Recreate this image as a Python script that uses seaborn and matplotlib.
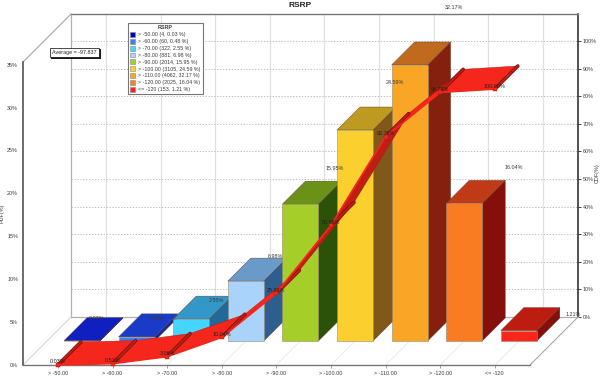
import matplotlib
matplotlib.use("Agg")
import matplotlib.pyplot as plt
import matplotlib.patheffects as pe
from matplotlib.patches import Patch, Polygon
import pandas as pd
import seaborn as sns

categories = ["> -50.00", "> -60.00", "> -70.00", "> -80.00", "> -90.00",
              "> -100.00", "> -110.00", "> -120.00", "<= -120"]
counts = [4, 60, 322, 881, 2014, 3105, 4062, 2025, 153]
pdf_values = [0.03, 0.48, 2.55, 6.98, 15.95, 24.59, 32.17, 16.04, 1.21]
cdf_values = [0.03, 0.51, 3.06, 10.04, 25.99, 50.58, 82.75, 98.79, 100.00]
average_text = "Average = -97.837"

front_colors = ["#0000C8", "#3E7FF0", "#45D5FF", "#A9D3FB", "#A6CE28",
                "#FBD02E", "#F9A526", "#F97B22", "#F8261C"]
top_colors = ["#0F1FC0", "#1A3AC8", "#3398C8", "#6A9AC8", "#6B9218",
              "#BF9A20", "#BF6A1C", "#C03A16", "#BD1C10"]
side_colors = ["#0A1490", "#12289A", "#1F6A98", "#2D5E8F", "#2B5208",
               "#81581A", "#85200E", "#850F0A", "#850F0A"]

W, H = 600, 377
CAT_PX, PDF_PX, CDF_PX = 54.6, 8.58, 2.76     # pixels per category / PDF % / CDF %
X0, Y0 = 58, 365                              # first category, 0 % on front plane
DEPTH = 48
TEXT = "#3a3a3a"

sns.set_theme(style="white")
plt.rcParams["font.family"] = ["Liberation Sans", "DejaVu Sans"]
plt.rcParams["font.size"] = 3.9

fig = plt.figure(figsize=(W / 100, H / 100), dpi=100)
fig.patch.set_facecolor("white")


def rect(l, t, r, b):
    return [l / W, 1 - b / H, (r - l) / W, (b - t) / H]


xlim = ((23 - X0) / CAT_PX, (530 - X0) / CAT_PX)

# back wall: CDF scale
wall = fig.add_axes(rect(71, 14, 578, 317), zorder=0)
wall.set_xlim(xlim)
wall.set_ylim(0, 303 / CDF_PX)
wall.set_xticks(range(len(categories)))
wall.set_xticklabels([])
wall.set_yticks(range(0, 101, 10))
wall.set_yticklabels([f"{v}%" for v in range(0, 101, 10)], color=TEXT, fontsize=3.9)
wall.yaxis.tick_right()
wall.tick_params(axis="y", length=2, width=0.6, color="#222", pad=1.5)
wall.tick_params(axis="x", length=0)
wall.grid(axis="x", color="#E0E0E0", lw=0.9, ls="-")
wall.grid(axis="y", color="#BBBBBB", lw=0.7, ls=(0, (1.3, 1.7)))
wall.set_axisbelow(True)
for side, col, lw in [("left", "#B0B0B0", 0.9), ("bottom", "#B0B0B0", 0.9),
                      ("top", "#777777", 1.0), ("right", "#222222", 1.1)]:
    wall.spines[side].set_color(col)
    wall.spines[side].set_linewidth(lw)
    wall.spines[side].set_visible(True)
wall.yaxis.set_label_position("right")
wall.set_ylabel("CDF(%)", fontsize=3.9, color=TEXT, rotation=90)
wall.yaxis.set_label_coords((595 - 71) / 507, (317 - 173) / 303)

# front plane: PDF scale
df = pd.DataFrame({"category": categories, "pdf": pdf_values})
ax = fig.add_axes(rect(23, 62, 530, 365), zorder=1)
ax.patch.set_alpha(0)
sns.barplot(data=df, x="category", y="pdf", hue="category", palette=front_colors,
            order=categories, hue_order=categories, width=36 / CAT_PX, dodge=False,
            legend=False, saturation=1, ax=ax, errorbar=None)
ax.set_xlim(xlim)
ax.set_ylim(0, 303 / PDF_PX)
ax.set_xlabel("")
ax.set_ylabel("PDF(%)", fontsize=3.9, color=TEXT)
ax.yaxis.set_label_coords((5 - 23) / 507, (365 - 213) / 303)
ax.set_yticks(range(0, 36, 5))
ax.set_yticklabels([f"{v}%" for v in range(0, 36, 5)], color=TEXT, fontsize=3.9)
ax.tick_params(axis="x", length=2, width=0.5, color="#777", pad=2.5, labelsize=3.9, labelcolor=TEXT, bottom=True)
ax.tick_params(axis="y", length=0, pad=3.5, left=False)
for side in ("top", "right"):
    ax.spines[side].set_visible(False)
ax.spines["left"].set_color("#444444")
ax.spines["left"].set_linewidth(1.1)
ax.spines["bottom"].set_color("#777777")
ax.spines["bottom"].set_linewidth(1.0)


def P(i, v, d=0):
    """Project category i, PDF value v, depth d (pixels) to front-plane data."""
    return (i + d / CAT_PX, v + d / PDF_PX)


def poly(pts, **kw):
    ax.add_patch(Polygon(pts, closed=True, clip_on=False, **kw))


# side walls and floor
wall_lines = [((-35 / CAT_PX, 303 / PDF_PX), "#A8A8A8", 0.8),
              ((-35 / CAT_PX, 0), "#D0D0D0", 0.7),
              ((472 / CAT_PX, 0), "#A8A8A8", 0.8)]
for (x, y), col, lw in wall_lines:
    x1, y1 = x + DEPTH / CAT_PX, y + DEPTH / PDF_PX
    ax.plot([x, x1], [y, y1], color=col, lw=lw, clip_on=False, zorder=1)
for i in range(len(categories)):
    a, b = P(i, 0), P(i, 0, DEPTH)
    ax.plot([a[0], b[0]], [a[1], b[1]], color="#E8E8E8", lw=0.6, clip_on=False, zorder=1)

# 3D bars: the front face comes from seaborn; depth faces from the same values
half = 18 / CAT_PX
for i, (patch, v) in enumerate(zip(ax.patches, pdf_values)):
    patch.set_x(i - half + 24 / CAT_PX)
    patch.set_y(24 / PDF_PX)
    patch.set_zorder(3)
    patch.set_edgecolor("#9a8a70")
    patch.set_linewidth(0.4)
    patch.set_clip_on(False)
    l, r = i - half, i + half
    poly([P(r, 0, 24), P(r, 0, 47), P(r, v, 47), P(r, v, 24)],
         fc=side_colors[i], ec="#5a3a2a", lw=0.3, zorder=2 + i * 0.01)
    poly([P(l, v, 24), P(r, v, 24), P(r, v, 47), P(l, v, 47)],
         fc=top_colors[i], ec="#5a3a2a", lw=0.3, zorder=2 + i * 0.01)

# CDF ribbon on the front half of the depth
k = CDF_PX / PDF_PX
RD = 23
n = len(cdf_values)
for i in range(n - 1):
    a, b = cdf_values[i] * k, cdf_values[i + 1] * k
    steep = (cdf_values[i + 1] - cdf_values[i]) * CDF_PX > CAT_PX * 1.2
    poly([P(i, a), P(i + 1, b), P(i + 1, b, RD), P(i, a, RD)],
         fc="#BE1E14" if steep else "#F5261B", ec="#A81A12", lw=0.3, zorder=4)
for i, c in enumerate(cdf_values):
    p, q = P(i, c * k), P(i, c * k, RD)
    ax.plot([p[0], q[0]], [p[1], q[1]], color="#8A1510", lw=2.6, clip_on=False,
            zorder=4.2, solid_capstyle="round")
    ax.plot([p[0], q[0]], [p[1], q[1]], color="#C8201A", lw=1.0, clip_on=False, zorder=4.3)
ax.plot(range(n), [c * k for c in cdf_values], color="#F5261B", lw=1.3, marker="s", ms=2.4,
        mec="#A81A12", mew=0.3, clip_on=False, zorder=4.5)

# value labels
for i, (v, c) in enumerate(zip(pdf_values, cdf_values)):
    px = i * 59.5 + 97
    py = min(318, 326 - 9.9 * v)
    ax.text((px - X0) / CAT_PX, (Y0 - py) / PDF_PX, f"{v:.2f}%", ha="center", va="center",
            fontsize=3.9, color=TEXT, zorder=5, clip_on=False)
    ax.text(i, c * k + 3 / PDF_PX, f"{c:.2f}%", ha="center", va="center",
            fontsize=3.9, color="#222222", zorder=5, clip_on=False)

# legend
labels = [f"{c} ({n_}, {v:.2f} %)" for c, n_, v in zip(categories, counts, pdf_values)]
handles = [Patch(fc=c, ec="#888888", lw=0.4) for c in front_colors]
leg = ax.legend(handles, labels, title="RSRP", loc="upper left",
                bbox_to_anchor=(128 / W, 1 - 23 / H), bbox_transform=fig.transFigure,
                borderaxespad=0, fontsize=3.8, title_fontsize=3.9, frameon=True,
                fancybox=False, framealpha=1, edgecolor="#777777", handlelength=0.9,
                handleheight=1.0, handletextpad=0.6, labelspacing=0.32, borderpad=0.45,
                labelcolor=TEXT)
leg.get_frame().set_linewidth(0.8)
leg.get_title().set_fontweight("bold")
leg.get_title().set_color(TEXT)
leg.set_zorder(6)

# average box
t = fig.text(74.5 / W, 1 - 52.5 / H, average_text, ha="center", va="center", fontsize=3.9,
             color="#222222", zorder=7,
             bbox=dict(boxstyle="square,pad=0.45", fc="white", ec="black", lw=0.5))
t.get_bbox_patch().set_path_effects([pe.withSimplePatchShadow(offset=(1, -1), shadow_rgbFace="k", alpha=1)])

fig.text(300 / W, 1 - 5.5 / H, "RSRP", ha="center", va="center", fontsize=6, fontweight="bold", color="#222222")

fig.savefig("out.png", dpi=100)
